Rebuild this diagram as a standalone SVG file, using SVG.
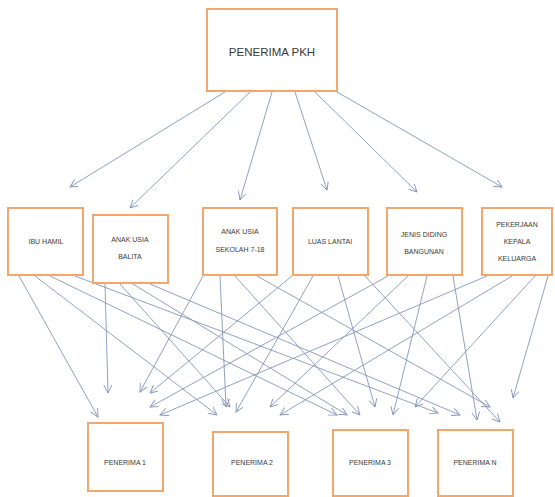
<svg xmlns="http://www.w3.org/2000/svg" width="555" height="497" viewBox="0 0 555 497">
<style>
.box{fill:#ffffff;stroke:#f2a76e;stroke-width:2}
.inner{fill:#f7fbff;stroke:none}
.t{font-family:"Liberation Sans",Arial,sans-serif;font-size:7px;fill:#3a3a3a;text-anchor:middle}
.big{font-size:11.5px}
.c{stroke:#8596bb;stroke-width:0.9;fill:none;marker-end:url(#ah)}
</style>
<defs>
<marker id="ah" markerUnits="userSpaceOnUse" markerWidth="10" markerHeight="10" refX="8" refY="4" orient="auto">
<path d="M0,0 L8,4 L0,8" fill="none" stroke="#8596bb" stroke-width="0.9"/>
</marker>
</defs>
<g id="connectors">
<line class="c" x1="225" y1="92" x2="70" y2="187"/>
<line class="c" x1="250" y1="92" x2="130" y2="208"/>
<line class="c" x1="272" y1="92" x2="240" y2="200"/>
<line class="c" x1="295" y1="92" x2="327" y2="190"/>
<line class="c" x1="315" y1="92" x2="417" y2="192"/>
<line class="c" x1="337" y1="92" x2="502" y2="187"/>
<line class="c" x1="19" y1="276" x2="98" y2="417"/>
<line class="c" x1="35" y1="276" x2="217" y2="415"/>
<line class="c" x1="50" y1="276" x2="337" y2="415"/>
<line class="c" x1="75" y1="276" x2="438" y2="413"/>
<line class="c" x1="105" y1="284" x2="108" y2="393"/>
<line class="c" x1="120" y1="284" x2="230" y2="407"/>
<line class="c" x1="133" y1="284" x2="347" y2="415"/>
<line class="c" x1="150" y1="284" x2="460" y2="415"/>
<line class="c" x1="203" y1="276" x2="140" y2="392"/>
<line class="c" x1="220" y1="276" x2="226" y2="407"/>
<line class="c" x1="235" y1="276" x2="360" y2="415"/>
<line class="c" x1="257" y1="276" x2="490" y2="407"/>
<line class="c" x1="292" y1="276" x2="150" y2="393"/>
<line class="c" x1="313" y1="276" x2="236" y2="412"/>
<line class="c" x1="338" y1="276" x2="375" y2="407"/>
<line class="c" x1="365" y1="276" x2="500" y2="422"/>
<line class="c" x1="388" y1="276" x2="150" y2="407"/>
<line class="c" x1="408" y1="276" x2="270" y2="407"/>
<line class="c" x1="427" y1="276" x2="393" y2="415"/>
<line class="c" x1="453" y1="276" x2="477" y2="420"/>
<line class="c" x1="487" y1="276" x2="160" y2="415"/>
<line class="c" x1="512" y1="276" x2="280" y2="415"/>
<line class="c" x1="535" y1="276" x2="415" y2="407"/>
<line class="c" x1="548" y1="276" x2="513" y2="398"/>
</g>
<g id="node-pkh">
<rect class="box" x="207" y="9" width="130" height="82"/>
<text class="t big" x="272" y="56">PENERIMA PKH</text>
</g>
<g id="node-ibu-hamil">
<rect class="box" x="8" y="208" width="75" height="67"/>
<text class="t" x="46" y="244">IBU HAMIL</text>
</g>
<g id="node-balita">
<rect class="box" x="93" y="215" width="75" height="68"/>
<text class="t" x="130" y="242">ANAK USIA</text>
<text class="t" x="130" y="259">BALITA</text>
</g>
<g id="node-sekolah">
<rect class="box" x="203" y="208" width="74" height="67"/>
<text class="t" x="240" y="234">ANAK USIA</text>
<text class="t" x="240" y="252">SEKOLAH 7-18</text>
</g>
<g id="node-luas">
<rect class="box" x="293" y="208" width="75" height="67"/>
<text class="t" x="330" y="244">LUAS LANTAI</text>
</g>
<g id="node-jenis">
<rect class="box" x="387" y="208" width="75" height="67"/>
<text class="t" x="424" y="237">JENIS DIDING</text>
<text class="t" x="424" y="254">BANGUNAN</text>
</g>
<g id="node-pekerjaan">
<rect class="box" x="482" y="208" width="70" height="67"/>
<text class="t" x="517" y="227">PEKERJAAN</text>
<text class="t" x="517" y="244">KEPALA</text>
<text class="t" x="517" y="261">KELUARGA</text>
</g>
<g id="node-p1">
<rect class="box" x="88" y="423" width="75" height="68"/>
<text class="t" x="125" y="465">PENERIMA 1</text>
</g>
<g id="node-p2">
<rect class="box" x="213" y="432" width="75" height="64"/>
<text class="t" x="252" y="465">PENERIMA 2</text>
</g>
<g id="node-p3">
<rect class="box" x="333" y="430" width="75" height="66"/>
<text class="t" x="370" y="465">PENERIMA 3</text>
</g>
<g id="node-pn">
<rect class="box" x="438" y="430" width="75" height="66"/>
<text class="t" x="475" y="465">PENERIMA N</text>
</g>
</svg>
